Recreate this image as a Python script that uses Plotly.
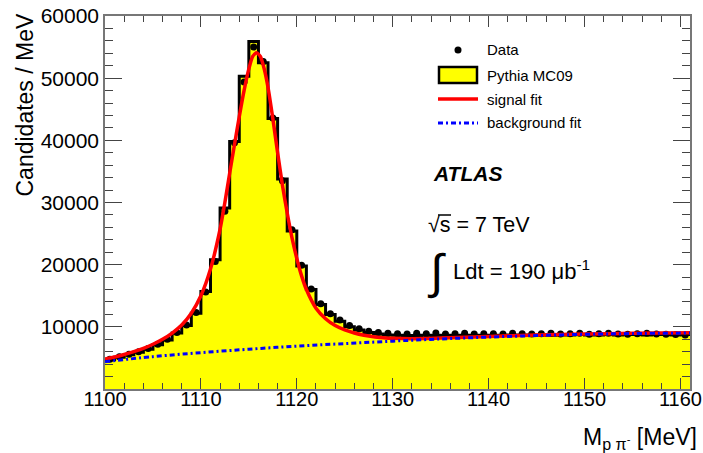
import plotly.graph_objects as go

# ---------------- data ----------------
bin_edges = list(range(1100, 1162))  # 1 MeV bins, 1100..1161
mc_counts = [4700, 5100, 5500, 5900, 6400, 7100, 7900, 9000, 10200, 12200,
             15700, 20800, 29100, 39800, 50300, 55900, 52500, 43500, 33800, 25400,
             19800, 16000, 13600, 12000, 10900, 10000, 9500, 9100, 8850, 8700,
             8650, 8600, 8600, 8650, 8600, 8650, 8600, 8650, 8650, 8600,
             8650, 8650, 8700, 8650, 8700, 8700, 8650, 8700, 8700, 8750,
             8700, 8700, 8750, 8700, 8750, 8750, 8700, 8750, 8750, 8700,
             8750]

data_mass = [1100.5 + i for i in range(61)]
data_counts = [4800, 5200, 5600, 6000, 6500, 7200, 8000, 9100, 10300, 12300,
               15600, 20500, 28600, 39600, 49400, 55000, 52700, 43600, 33500, 25600,
               19900, 16100, 13700, 12100, 11100, 10200, 9700, 9300, 9100, 8950,
               8900, 8850, 8950, 8900, 9000, 8850, 8900, 8950, 8850, 8900,
               8900, 8850, 8950, 8900, 8850, 8900, 8950, 8850, 8900, 8950,
               8800, 8900, 8950, 8850, 8800, 8900, 8950, 8850, 8800, 8750,
               8700]

sig_mass = [1100, 1101, 1102, 1103, 1104, 1105, 1106, 1107, 1108, 1109,
            1110, 1111, 1112, 1112.5, 1113, 1113.5, 1114, 1114.5, 1115, 1115.4,
            1115.8, 1116.2, 1116.6, 1117, 1117.5, 1118, 1118.5, 1119, 1119.5, 1120,
            1120.5, 1121, 1122, 1123, 1124, 1125, 1126, 1127, 1128, 1129,
            1130, 1132, 1135, 1140, 1145, 1150, 1155, 1161]
sig_fit = [4800, 5150, 5550, 6000, 6550, 7200, 8000, 9000, 10300, 12200,
           15000, 19300, 25700, 30000, 34700, 39300, 43800, 48000, 51500, 53500,
           54100, 53500, 51500, 48500, 43500, 38000, 32800, 28300, 24300, 21000,
           18200, 16000, 13000, 11300, 10200, 9500, 9000, 8650, 8400, 8250,
           8150, 8100, 8200, 8450, 8700, 8850, 8950, 9050]

bkg_mass = [1100, 1105, 1110, 1115, 1120, 1125, 1130, 1135, 1140, 1145, 1150, 1155, 1161]
bkg_fit = [4400, 5200, 5850, 6400, 6900, 7300, 7700, 8050, 8350, 8600, 8800, 8920, 9000]

x_ticks = [1100, 1110, 1120, 1130, 1140, 1150, 1160]
y_ticks = [10000, 20000, 30000, 40000, 50000, 60000]
y_tick_labels = ["10000", "20000", "30000", "40000", "50000", "60000"]

FONT = "Liberation Sans, Arial, sans-serif"
AXC = "#777777"

fig = go.Figure()

# MC histogram (step, filled)
fig.add_trace(go.Scatter(
    x=bin_edges, y=mc_counts + [mc_counts[-1]],
    mode="lines", line=dict(shape="hv", color="black", width=3),
    fill="tozeroy", fillcolor="#ffff00", showlegend=False, hoverinfo="skip"))

# Data
fig.add_trace(go.Scatter(
    x=data_mass, y=data_counts, mode="markers",
    marker=dict(color="black", size=7), showlegend=False))

# signal fit
fig.add_trace(go.Scatter(
    x=sig_mass, y=sig_fit, mode="lines",
    line=dict(color="#ff0000", width=3.5, shape="spline", smoothing=0.6),
    showlegend=False))

# background fit
fig.add_trace(go.Scatter(
    x=bkg_mass, y=bkg_fit, mode="lines",
    line=dict(color="#0000ff", width=3, dash="5px,3px,2px,3px", shape="spline"),
    showlegend=False))

fig.update_layout(
    width=703, height=453,
    margin=dict(l=105, r=13, t=16, b=64, autoexpand=False),
    paper_bgcolor="white", plot_bgcolor="white",
    font=dict(family=FONT, color="black"),
    xaxis=dict(range=[1100, 1161], tickvals=x_ticks, ticks="inside", ticklen=11,
               tickcolor="#444", tickwidth=1, showgrid=False, zeroline=False,
               showline=True, linecolor=AXC, linewidth=1.5, mirror="ticks",
               tickfont=dict(size=20, family=FONT), automargin=False,
               ticklabelstandoff=-9,
               minor=dict(dtick=2, ticks="inside", ticklen=6, tickcolor="#444", showgrid=False)),
    yaxis=dict(range=[0, 60000], tickvals=y_ticks, ticktext=y_tick_labels,
               ticks="inside", ticklen=17, automargin=False,
               tickcolor="#444", tickwidth=1, showgrid=False, zeroline=False,
               showline=True, linecolor=AXC, linewidth=1.5, mirror="ticks",
               tickfont=dict(size=21, family=FONT),
               minor=dict(dtick=2000, ticks="inside", ticklen=8, tickcolor="#444", showgrid=False)),
)

def px(xp):
    return (xp - 105) / 585.0

def py(yp):
    return (389 - yp) / 373.0

ann = []
# axis titles
ann.append(dict(text="Candidates / MeV", xref="paper", yref="paper",
                x=px(24), y=py(12), xanchor="center", yanchor="top",
                textangle=-90, showarrow=False, font=dict(size=23, family=FONT)))
ann.append(dict(text="M<sub>p π<sup>-</sup></sub> [MeV]", xref="paper", yref="paper",
                x=px(699), y=py(438), xanchor="right", yanchor="middle",
                showarrow=False, font=dict(size=23, family=FONT)))
# legend texts
for label, yy in [("Data", 50), ("Pythia MC09", 75), ("signal fit", 99), ("background fit", 123)]:
    ann.append(dict(text=label, xref="paper", yref="paper", x=px(485), y=py(yy),
                    xanchor="left", yanchor="middle", showarrow=False,
                    font=dict(size=15, family=FONT)))
# ATLAS labels
ann.append(dict(text="<b><i>ATLAS</i></b>", xref="paper", yref="paper", x=px(431), y=py(174),
                xanchor="left", yanchor="middle", showarrow=False, font=dict(size=21, family=FONT)))
ann.append(dict(text="√s = 7 TeV", xref="paper", yref="paper", x=px(426), y=py(225),
                xanchor="left", yanchor="middle", showarrow=False, font=dict(size=21.5, family=FONT)))
ann.append(dict(text="∫", xref="paper", yref="paper", x=px(436), y=py(272),
                xanchor="center", yanchor="middle", showarrow=False, font=dict(size=48, family=FONT)))
ann.append(dict(text="Ldt = 190 μb<sup>-1</sup>", xref="paper", yref="paper", x=px(451), y=py(270),
                xanchor="left", yanchor="middle", showarrow=False, font=dict(size=22, family=FONT)))

shapes = []
# legend keys
shapes.append(dict(type="rect", xref="paper", yref="paper", x0=px(439), x1=px(477), y0=py(83), y1=py(67),
                   fillcolor="#ffff00", line=dict(color="black", width=2.5)))
shapes.append(dict(type="line", xref="paper", yref="paper", x0=px(438), x1=px(478), y0=py(99), y1=py(99),
                   line=dict(color="#ff0000", width=3.5)))
shapes.append(dict(type="line", xref="paper", yref="paper", x0=px(438), x1=px(478), y0=py(123), y1=py(123),
                   line=dict(color="#0000ff", width=3, dash="5px,3px,2px,3px")))
shapes.append(dict(type="circle", xref="paper", yref="paper", x0=px(454.5), x1=px(461.5), y0=py(53.5), y1=py(46.5),
                   fillcolor="black", line=dict(color="black", width=0)))
# sqrt vinculum
shapes.append(dict(type="line", xref="paper", yref="paper", x0=px(438), x1=px(451), y0=py(215), y1=py(215),
                   line=dict(color="black", width=1.5)))

fig.update_layout(annotations=ann, shapes=shapes)
fig.write_html("out.html")
